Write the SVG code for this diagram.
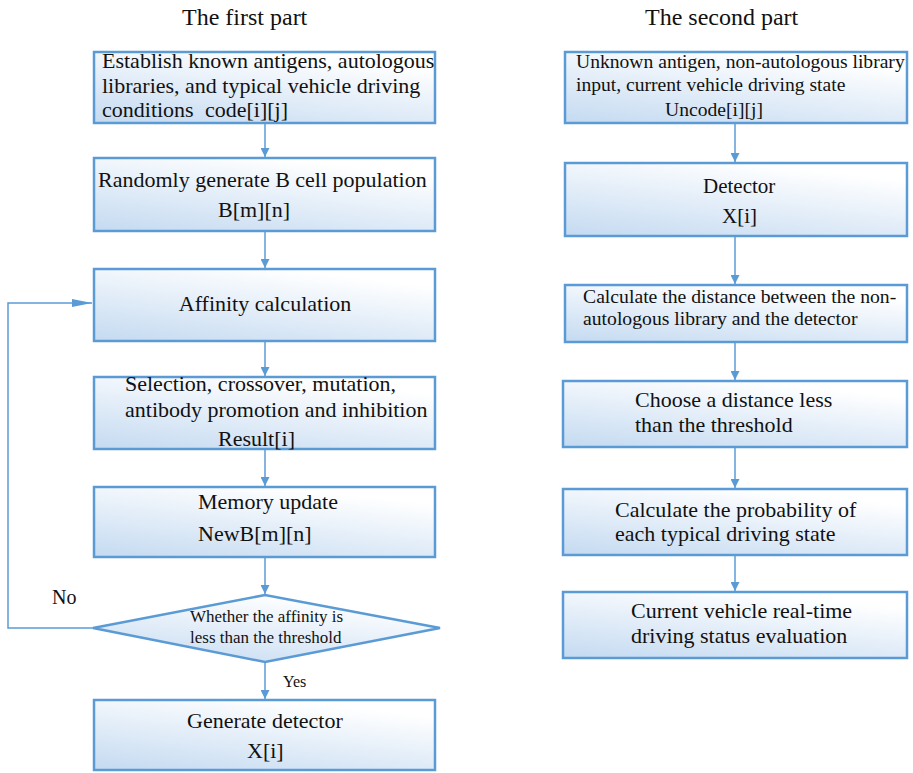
<svg xmlns="http://www.w3.org/2000/svg" width="913" height="773" viewBox="0 0 913 773">
<defs>
<linearGradient id="g" x1="0" y1="1" x2="0.55" y2="0">
<stop offset="0" stop-color="#c4daf1"/>
<stop offset="1" stop-color="#ffffff"/>
</linearGradient>
<marker id="ah" viewBox="0 0 10 10" refX="10" refY="5" markerWidth="9" markerHeight="9" markerUnits="userSpaceOnUse" orient="auto">
<path d="M0,0 L10,5 L0,10 z" fill="#5b9bd5"/>
</marker>
<marker id="ahl" viewBox="0 0 20 8" refX="20" refY="4" markerWidth="20" markerHeight="8" markerUnits="userSpaceOnUse" orient="auto">
<path d="M0,0 L20,4 L0,8 z" fill="#5b9bd5"/>
</marker>
</defs>
<style>
.box{fill:url(#g);stroke:#5b9bd5;stroke-width:2.5}
.t{font-family:"Liberation Serif","Times New Roman",serif;fill:#111}
.c{stroke:#5b9bd5;stroke-width:1.5;fill:none}
</style>
<rect width="913" height="773" fill="#ffffff"/>
<text class="t" x="182" y="25" font-size="24">The first part</text>
<text class="t" x="645" y="25" font-size="24">The second part</text>
<g id="connectors">
<line class="c" x1="265" y1="123" x2="265" y2="157" marker-end="url(#ah)"/>
<line class="c" x1="265" y1="231" x2="265" y2="268" marker-end="url(#ah)"/>
<line class="c" x1="265" y1="341" x2="265" y2="376" marker-end="url(#ah)"/>
<line class="c" x1="265" y1="449" x2="265" y2="486" marker-end="url(#ah)"/>
<line class="c" x1="265" y1="557" x2="265" y2="594" marker-end="url(#ah)"/>
<line class="c" x1="265" y1="662" x2="265" y2="699" marker-end="url(#ah)"/>
<polyline class="c" points="93,628 8,628 8,303 92,303" marker-end="url(#ahl)"/>
<line class="c" x1="735" y1="123" x2="735" y2="162" marker-end="url(#ah)"/>
<line class="c" x1="735" y1="236" x2="735" y2="284" marker-end="url(#ah)"/>
<line class="c" x1="735" y1="342" x2="735" y2="380" marker-end="url(#ah)"/>
<line class="c" x1="735" y1="447" x2="735" y2="488" marker-end="url(#ah)"/>
<line class="c" x1="735" y1="555" x2="735" y2="591" marker-end="url(#ah)"/>
<text class="t" x="52" y="604" font-size="20">No</text>
<text class="t" x="283" y="687" font-size="16">Yes</text>
</g>
<g id="n-l1">
<rect class="box" x="94" y="52" width="341" height="71"/>
<text class="t" x="102" y="68" font-size="22">Establish known antigens, autologous</text>
<text class="t" x="102" y="93" font-size="22">libraries, and typical vehicle driving</text>
<text class="t" x="102" y="117" font-size="22">conditions</text>
<text class="t" x="205" y="117" font-size="22">code[i][j]</text>
</g>
<g id="n-l2">
<rect class="box" x="94" y="158" width="341" height="73"/>
<text class="t" x="98" y="187" font-size="22">Randomly generate B cell population</text>
<text class="t" x="218" y="217" font-size="22">B[m][n]</text>
</g>
<g id="n-l3">
<rect class="box" x="94" y="269" width="341" height="72"/>
<text class="t" x="265" y="311" font-size="22" text-anchor="middle">Affinity calculation</text>
</g>
<g id="n-l4">
<rect class="box" x="94" y="377" width="341" height="72"/>
<text class="t" x="125" y="391" font-size="22">Selection, crossover, mutation,</text>
<text class="t" x="125" y="417" font-size="22">antibody promotion and inhibition</text>
<text class="t" x="218" y="446" font-size="22">Result[i]</text>
</g>
<g id="n-l5">
<rect class="box" x="94" y="487" width="341" height="70"/>
<text class="t" x="198" y="509" font-size="22">Memory update</text>
<text class="t" x="198" y="541" font-size="22">NewB[m][n]</text>
</g>
<g id="n-dec">
<polygon class="box" points="93,628 265,595 440,628 265,662"/>
<text class="t" x="190" y="622" font-size="17">Whether the affinity is</text>
<text class="t" x="190" y="643" font-size="17">less than the threshold</text>
</g>
<g id="n-l6">
<rect class="box" x="94" y="700" width="341" height="70"/>
<text class="t" x="187" y="728" font-size="22">Generate detector</text>
<text class="t" x="247" y="758" font-size="22">X[i]</text>
</g>
<g id="n-r1">
<rect class="box" x="565" y="52" width="342" height="71"/>
<text class="t" x="576" y="68" font-size="19.6">Unknown antigen, non-autologous library</text>
<text class="t" x="576" y="91" font-size="19.6">input, current vehicle driving state</text>
<text class="t" x="665" y="116" font-size="19.6">Uncode[i][j]</text>
</g>
<g id="n-r2">
<rect class="box" x="565" y="163" width="342" height="73"/>
<text class="t" x="703" y="193" font-size="21">Detector</text>
<text class="t" x="722" y="223" font-size="21">X[i]</text>
</g>
<g id="n-r3">
<rect class="box" x="565" y="285" width="342" height="57"/>
<text class="t" x="583" y="303" font-size="19.7">Calculate the distance between the non-</text>
<text class="t" x="583" y="325" font-size="19.7">autologous library and the detector</text>
</g>
<g id="n-r4">
<rect class="box" x="563" y="381" width="344" height="66"/>
<text class="t" x="635" y="407" font-size="22">Choose a distance less</text>
<text class="t" x="635" y="432" font-size="22">than the threshold</text>
</g>
<g id="n-r5">
<rect class="box" x="563" y="489" width="344" height="66"/>
<text class="t" x="615" y="517" font-size="22">Calculate the probability of</text>
<text class="t" x="615" y="541" font-size="22">each typical driving state</text>
</g>
<g id="n-r6">
<rect class="box" x="563" y="592" width="344" height="66"/>
<text class="t" x="631" y="618" font-size="22">Current vehicle real-time</text>
<text class="t" x="631" y="643" font-size="22">driving status evaluation</text>
</g>
</svg>
